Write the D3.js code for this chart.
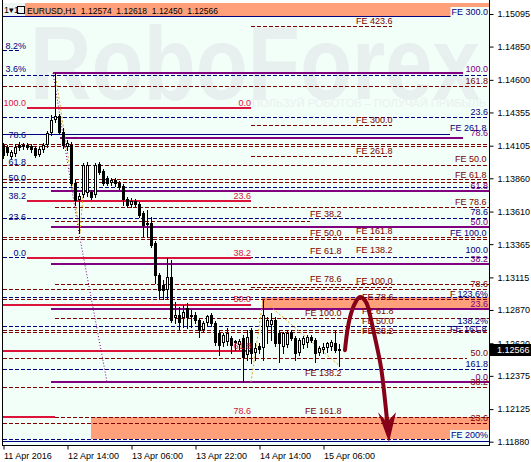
<!DOCTYPE html>
<meta charset="utf-8">
<style>
body { margin: 0; background: #fff; }
svg { display: block; font-family: "Liberation Sans", Arial, sans-serif; }
.axis text { font-size: 9px; fill: #000; font-family: "Liberation Sans", Arial, sans-serif; }
.axis line { stroke: #000; }
.lbl { font-size: 9px; }
</style>
<svg width="531" height="462"></svg>
<script src="https://d3js.org/d3.v7.min.js"></script>
<script>

// price axis ticks
var tickPrices = [1.15095, 1.14850, 1.14600, 1.14355, 1.14105, 1.13860, 1.13610,
                  1.13365, 1.13115, 1.12870, 1.12620, 1.12375, 1.12125, 1.11880];

// time axis: bar index (H1, first bar 11 Apr 22:00)
var timeTicks = [0, 16, 32, 48, 64, 80];
var timeLabels = ["11 Apr 2016", "12 Apr 14:00", "13 Apr 06:00", "13 Apr 22:00", "14 Apr 14:00", "15 Apr 06:00"];

var symbol = "EURUSD,H1";
var lastPrice = 1.12566;

var opens = [1.14110,1.14095,1.14019,1.14042,1.14110,1.14102,1.14110,1.14102,1.14087,1.14034,
 1.14072,1.14110,1.14200,1.14298,1.14328,1.14207,1.14095,1.14110,1.13824,1.13696,
 1.13734,1.13749,1.13756,1.13734,1.13967,1.13914,1.13861,1.13824,1.13846,1.13824,
 1.13801,1.13704,1.13658,1.13689,1.13666,1.13598,1.13508,1.13523,1.13373,1.13132,
 1.13057,1.13019,1.13117,1.12809,1.12831,1.12809,1.12884,1.12816,1.12831,1.12794,
 1.12718,1.12771,1.12831,1.12771,1.12696,1.12621,1.12628,1.12658,1.12621,1.12606,
 1.12658,1.12530,1.12718,1.12545,1.12598,1.12583,1.12741,1.12756,1.12794,1.12696,
 1.12591,1.12606,1.12703,1.12658,1.12545,1.12606,1.12621,1.12666,1.12643,1.12545,
 1.12568,1.12583,1.12591,1.12621,1.12574];
var highs = [1.14125,1.14110,1.14072,1.14117,1.14132,1.14125,1.14125,1.14117,1.14102,1.14095,
 1.14125,1.14215,1.14335,1.14651,1.14343,1.14237,1.14147,1.14132,1.13846,1.13749,
 1.13974,1.13982,1.13771,1.13974,1.13982,1.13929,1.13877,1.13861,1.13861,1.13839,
 1.13816,1.13719,1.13711,1.13704,1.13681,1.13613,1.13621,1.13568,1.13388,1.13147,
 1.13094,1.13260,1.13245,1.12929,1.12891,1.12906,1.12921,1.12869,1.12854,1.12809,
 1.12786,1.12831,1.12846,1.12786,1.12718,1.12696,1.12733,1.12673,1.12643,1.12651,
 1.12681,1.12718,1.12733,1.12621,1.12621,1.12944,1.12816,1.12846,1.12816,1.12718,
 1.12703,1.12718,1.12718,1.12673,1.12658,1.12673,1.12681,1.12681,1.12658,1.12598,
 1.12621,1.12628,1.12643,1.12718,1.12618];
var lows = [1.14012,1.14034,1.14012,1.14027,1.14072,1.14080,1.14080,1.14057,1.14019,1.14027,
 1.14057,1.14095,1.14185,1.14283,1.14192,1.14087,1.14072,1.13809,1.13658,1.13448,
 1.13719,1.13726,1.13704,1.13719,1.13892,1.13809,1.13809,1.13809,1.13801,1.13779,
 1.13658,1.13643,1.13643,1.13651,1.13568,1.13418,1.13418,1.13343,1.13072,1.12959,
 1.12952,1.12959,1.12779,1.12771,1.12718,1.12741,1.12733,1.12741,1.12771,1.12666,
 1.12703,1.12756,1.12748,1.12606,1.12530,1.12598,1.12606,1.12545,1.12568,1.12576,
 1.12327,1.12493,1.12470,1.12493,1.12545,1.12493,1.12621,1.12643,1.12598,1.12478,
 1.12545,1.12591,1.12643,1.12493,1.12530,1.12583,1.12591,1.12628,1.12478,1.12530,
 1.12545,1.12553,1.12568,1.12553,1.12450];
var closes = [1.14034,1.14057,1.14057,1.14095,1.14095,1.14110,1.14095,1.14080,1.14034,1.14080,
 1.14110,1.14200,1.14298,1.14328,1.14207,1.14110,1.14125,1.13824,1.13696,1.13726,
 1.13959,1.13959,1.13719,1.13959,1.13907,1.13824,1.13824,1.13846,1.13824,1.13794,
 1.13704,1.13658,1.13689,1.13666,1.13583,1.13508,1.13523,1.13358,1.13132,1.13019,
 1.13019,1.13117,1.12794,1.12831,1.12779,1.12854,1.12816,1.12831,1.12794,1.12718,
 1.12771,1.12824,1.12771,1.12628,1.12606,1.12681,1.12696,1.12606,1.12636,1.12636,
 1.12515,1.12666,1.12545,1.12583,1.12576,1.12831,1.12794,1.12794,1.12621,1.12621,
 1.12696,1.12696,1.12658,1.12545,1.12643,1.12658,1.12666,1.12643,1.12545,1.12583,
 1.12591,1.12621,1.12628,1.12568,1.12566];

// horizontal levels: [price, from bar, to bar, kind]
var levels = [
 [1.15080, 0, 121.5, "nvs"], [1.15004, 62, 97.25, "dr"], [1.14824, 0, 4.25, "nv"],
 [1.14651, 12.5, 115, "pu"], [1.14636, 0, 121.5, "nv"], [1.14553, 0, 121.5, "dr"],
 [1.14388, 6, 62, "cr"], [1.14320, 0, 121.5, "nv"], [1.14260, 62, 97.25, "dr"],
 [1.14192, 0, 111.75, "nvs"], [1.14162, 14.25, 115, "pu"], [1.14119, 0, 121.5, "dr"],
 [1.14102, 0, 121.5, "dr"], [1.14027, 62, 97.25, "dr"], [1.13959, 0, 121.5, "dr"],
 [1.13854, 0, 121.5, "dr"], [1.13831, 0, 121.5, "dr"], [1.13794, 0, 121.5, "nv"],
 [1.13764, 12, 121.5, "pu"], [1.13691, 6, 62, "cr"], [1.13643, 13, 121.5, "dr"],
 [1.13561, 0, 121.5, "nv"], [1.13538, 13, 76.75, "dr"], [1.13493, 12, 121.5, "pu"],
 [1.13418, 0, 121.5, "dr"], [1.13403, 0, 121.5, "dr"], [1.13267, 0, 121.5, "nv"],
 [1.13260, 6, 62, "cr"], [1.13215, 12, 121.5, "pu"], [1.13064, 13, 121.5, "dr"],
 [1.13042, 62, 97.25, "dr"], [1.13027, 0, 121.5, "dr"], [1.12967, 0, 121.5, "nv"],
 [1.12952, 0, 121.5, "dr"], [1.12906, 0, 62, "cr"], [1.12876, 12, 121.5, "pu"],
 [1.12809, 13, 121.5, "dr"], [1.12748, 0, 121.5, "nv"], [1.12718, 0, 121.5, "dr"],
 [1.12703, 0, 121.5, "dr"], [1.12563, 0, 62, "cr"], [1.12508, 0, 116, "dr"],
 [1.12425, 0, 121.5, "nv"], [1.12330, 12, 121.5, "pu"], [1.12290, 0, 121.5, "dr"],
 [1.12066, 0, 13, "cr"], [1.12066, 13, 121.5, "dr"], [1.12019, 0, 121.5, "dr"],
 [1.11899, 0, 121.5, "nv"], [1.11884, 0, 121.5, "nvs"]
];

// level captions: [text, bar, price, kind, anchor]
var labels = [
 ["FE 300.0", 121.25, 1.15087, "nvb", "end"], ["100.0", 121.25, 1.14659, "pu", "end"],
 ["161.8", 121.25, 1.14568, "dr", "end"], ["23.6", 121.25, 1.14335, "nv", "end"],
 ["78.6", 121.25, 1.14177, "pu", "end"], ["61.8", 121.25, 1.13779, "pu", "end"],
 ["78.6", 121.25, 1.13583, "nv", "end"], ["50.0", 121.25, 1.13508, "pu", "end"],
 ["100.0", 121.25, 1.13297, "nv", "end"], ["38.2", 121.25, 1.13230, "pu", "end"],
 ["78.6", 121.25, 1.13042, "dr", "end"], ["123.6%", 121.25, 1.12967, "nv", "end"],
 ["23.6", 121.25, 1.12891, "pu", "end"], ["138.2%", 121.25, 1.12764, "nv", "end"],
 ["50.0", 121.25, 1.12523, "dr", "end"], ["161.8", 121.25, 1.12440, "nv", "end"],
 ["0.0", 121.25, 1.12342, "pu", "end"], ["38.2", 121.25, 1.12305, "dr", "end"],
 ["23.6", 121.25, 1.12034, "dr", "end"], ["FE 200%", 121.25, 1.11906, "nvb", "end"],
 ["FE 50.0", 113, 1.13982, "dr", "start"], ["FE 61.8", 113, 1.13861, "dr", "start"],
 ["FE 78.6", 113, 1.13658, "dr", "start"], ["FE 261.8", 111.75, 1.14215, "nv", "start"],
 ["FE 100.0", 111.75, 1.13425, "nv", "start"], ["F", 111.75, 1.12967, "dr", "start"],
 ["FE 161.8", 111.75, 1.12703, "nv", "start"],
 ["FE 423.6", 88.25, 1.15020, "dr", "start"], ["FE 300.0", 88.25, 1.14275, "dr", "start"],
 ["FE 261.8", 88.25, 1.14042, "dr", "start"], ["FE 161.8", 88.25, 1.13440, "dr", "start"],
 ["FE 138.2", 88.25, 1.13297, "dr", "start"], ["FE 100.0", 88.25, 1.13064, "dr", "start"],
 ["FE 78.6", 89.75, 1.12944, "dr", "start"], ["FE 61.8", 89.75, 1.12839, "dr", "start"],
 ["FE 50.0", 89.75, 1.12764, "dr", "start"], ["FE 38.2", 89.75, 1.12688, "dr", "start"],
 ["FE 38.2", 76.75, 1.13568, "dr", "start"], ["FE 50.0", 76.75, 1.13425, "dr", "start"],
 ["FE 61.8", 76.75, 1.13290, "dr", "start"], ["FE 78.6", 76.75, 1.13079, "dr", "start"],
 ["FE 100.0", 75.5, 1.12824, "dr", "start"], ["FE 138.2", 75.5, 1.12372, "dr", "start"],
 ["FE 161.8", 75.5, 1.12087, "dr", "start"],
 ["0.0", 62, 1.14403, "cr", "end"], ["23.6", 62, 1.13704, "cr", "end"],
 ["38.2", 62, 1.13275, "cr", "end"], ["50.0", 62, 1.12929, "cr", "end"],
 ["61.8", 62, 1.12576, "cr", "end"], ["78.6", 62, 1.12087, "cr", "end"],
 ["8.2%", 5.75, 1.14832, "nv", "end"], ["3.6%", 5.75, 1.14659, "nv", "end"],
 ["100.0", 5.75, 1.14403, "cr", "end"], ["78.6", 5.75, 1.14162, "nv", "end"],
 ["61.8", 5.75, 1.13959, "nv", "end"], ["50.0", 5.75, 1.13839, "nv", "end"],
 ["38.2", 5.75, 1.13704, "nv", "end"], ["23.6", 5.75, 1.13546, "nv", "end"],
 ["0.0", 5.75, 1.13275, "nv", "end"]
];

// target zones: [top price, bottom price, from bar, to bar]
var zones = [[1.15177, 1.15080, 0, 121.5], [1.12967, 1.12876, 64.75, 121.5], [1.12066, 1.11899, 22, 121.5]];

// fibo anchor lines [bar, price]
var purpleTrend = [[12.5, 1.14651], [19, 1.13448], [26, 1.12330]];
var orangeTrend1 = [[13, 1.14651], [19.25, 1.13448], [20, 1.13734]];
var orangeTrend2 = [[62, 1.12327], [65, 1.12944], [84, 1.12455]];

// forecast arrow
var arrowPts = [[85.5, 1.12568], [86, 1.12696], [86.75, 1.12816], [88, 1.12921], [89.25, 1.12967],
 [90.75, 1.12929], [91.75, 1.12831], [92.75, 1.12696], [94.5, 1.12440], [95.5, 1.12192], [96, 1.12042]];
var arrowHead = [[93.75, 1.12102], [96.5, 1.11876], [98.25, 1.12102], [96, 1.12027]];

var svg = d3.select("svg"),
    W = +svg.attr("width"),
    H = +svg.attr("height");

var bg = "#f2fef8";
var color = {nv: "#000080", nvs: "#000080", nvb: "#000080", dr: "#800000", cr: "#dc143c", pu: "#800080"};
var sw = {nv: 1, nvs: 1, dr: 1, cr: 2, pu: 2};
var dash = {nv: "4,2", dr: "4,2"};

var x = d3.scaleLinear().domain([0, 121.5]).range([3, 489]);
var y = d3.scaleLinear().domain([1.11880, 1.15095]).range([441.7, 14]);

function py(p, w) { return w == 2 ? Math.round(y(p)) : Math.round(y(p)) + 0.5; }

svg.append("rect").attr("width", W).attr("height", H).attr("fill", "#fff");
svg.append("rect").attr("x", 3).attr("y", 3).attr("width", 486).attr("height", 442).attr("fill", bg);

// watermark (fits inside the plot, no clipping needed)
svg.append("text").attr("x", 30).attr("y", 99)
  .attr("font-size", 104).attr("font-weight", "bold")
  .attr("textLength", 450).attr("lengthAdjust", "spacingAndGlyphs")
  .attr("fill", "#e7efef").text("RoboForex");
svg.append("text").attr("x", 252).attr("y", 107)
  .attr("font-size", 10).attr("textLength", 234).attr("lengthAdjust", "spacingAndGlyphs")
  .attr("fill", "#e9f1f0")
  .text("ПОЛЬЗУЙ РОБОТОВ – ПОЛУЧАЙ ПРИБЫЛЬ");

svg.append("defs").append("clipPath").attr("id", "plot")
  .append("rect").attr("x", 3).attr("y", 3).attr("width", 486).attr("height", 442);
var plot = svg.append("g").attr("clip-path", "url(#plot)");

// zones
plot.append("g").selectAll("rect").data(zones).join("rect")
  .attr("x", function(d) { return x(d[2]); })
  .attr("width", function(d) { return x(d[3]) - x(d[2]); })
  .attr("y", function(d) { return Math.round(y(d[0])); })
  .attr("height", function(d) { return Math.round(y(d[1])) - Math.round(y(d[0])); })
  .attr("fill", "#ffa07a");

// levels
plot.append("g").attr("shape-rendering", "crispEdges").selectAll("line").data(levels).join("line")
  .attr("x1", function(d) { return x(d[1]); })
  .attr("x2", function(d) { return x(d[2]); })
  .attr("y1", function(d) { return py(d[0], sw[d[3]]); })
  .attr("y2", function(d) { return py(d[0], sw[d[3]]); })
  .attr("stroke", function(d) { return color[d[3]]; })
  .attr("stroke-width", function(d) { return sw[d[3]]; })
  .attr("stroke-dasharray", function(d) { return dash[d[3]] || null; });

// fibo anchor trend lines
var trend = d3.line().x(function(d) { return x(d[0]); }).y(function(d) { return y(d[1]); });
plot.append("path").attr("d", trend(purpleTrend)).attr("fill", "none")
  .attr("stroke", "#800080").attr("stroke-dasharray", "1,2");
plot.append("path").attr("d", trend(orangeTrend1)).attr("fill", "none")
  .attr("stroke", "#daa520").attr("stroke-dasharray", "2,2");
plot.append("path").attr("d", trend(orangeTrend2)).attr("fill", "none")
  .attr("stroke", "#daa520").attr("stroke-dasharray", "2,2");

// candles
var idx = d3.range(opens.length);
var candles = plot.append("g").attr("shape-rendering", "crispEdges");
candles.selectAll("line").data(idx).join("line")
  .attr("x1", function(i) { return x(i) + 0.5; })
  .attr("x2", function(i) { return x(i) + 0.5; })
  .attr("y1", function(i) { return Math.round(y(highs[i])); })
  .attr("y2", function(i) { return Math.round(y(lows[i])) + 1; })
  .attr("stroke", "#000");
candles.selectAll("rect").data(idx).join("rect")
  .each(function(i) {
    var up = closes[i] >= opens[i];
    var top = Math.round(y(Math.max(opens[i], closes[i])));
    var bot = Math.round(y(Math.min(opens[i], closes[i])));
    var h = Math.max(bot - top, 1);
    var r = d3.select(this);
    if (up) {
      r.attr("x", x(i) - 0.5).attr("width", 2).attr("y", top + 0.5).attr("height", Math.max(h - 1, 1))
       .attr("fill", "#fff").attr("stroke", "#000");
    } else {
      r.attr("x", x(i) - 1).attr("width", 3).attr("y", top).attr("height", h + 1).attr("fill", "#000");
    }
  });

// forecast arrow
plot.append("path")
  .attr("d", d3.line().x(function(d) { return x(d[0]); }).y(function(d) { return y(d[1]); })
    .curve(d3.curveCatmullRom)(arrowPts))
  .attr("fill", "none").attr("stroke", "#850018").attr("stroke-width", 4).attr("stroke-linecap", "round");
plot.append("path")
  .attr("d", trend(arrowHead) + "Z").attr("fill", "#850018");

// captions
var lab = plot.append("g").attr("class", "lbl");
lab.selectAll("text").data(labels).join("text")
  .attr("x", function(d) { return x(d[1]); })
  .attr("y", function(d) { return Math.round(y(d[2])); })
  .attr("text-anchor", function(d) { return d[4]; })
  .attr("fill", function(d) { return color[d[3]]; })
  .text(function(d) { return d[0]; })
  .each(function(d) {
    if (d[3] == "nvb") {
      var b = this.getBBox();
      d3.select(this.parentNode).insert("rect", function() { return this; }.bind(this))
        .attr("x", b.x - 1).attr("y", b.y).attr("width", b.width + 2).attr("height", b.height)
        .attr("fill", bg);
    }
  });

// header
svg.append("rect").attr("x", 3).attr("y", 3).attr("width", 22).attr("height", 13).attr("fill", "#eef4f2");
svg.append("text").attr("x", 4).attr("y", 13).attr("font-size", 9).attr("fill", "#000").text("1▾1");
svg.append("rect").attr("x", 17.5).attr("y", 6.5).attr("width", 7).attr("height", 7)
  .attr("fill", "none").attr("stroke", "#000");
svg.append("text").attr("x", 27).attr("y", 14).attr("font-size", 9.5)
  .attr("textLength", 191).attr("lengthAdjust", "spacingAndGlyphs")
  .style("white-space", "pre")
  .text(symbol + "  " + [opens[84], highs[84], lows[84], closes[84]].map(d3.format(".5f")).join("  "));

// axes
var yAxis = d3.axisRight(y).tickValues(tickPrices).tickFormat(d3.format(".5f")).tickSize(4).tickPadding(4);
svg.append("g").attr("class", "axis").attr("transform", "translate(489.5,0)").call(yAxis)
  .call(function(g) { g.select(".domain").remove(); });

var xAxis = d3.axisBottom(x).tickValues(timeTicks)
  .tickFormat(function(d, i) { return timeLabels[i]; }).tickSize(4).tickPadding(3);
svg.append("g").attr("class", "axis").attr("transform", "translate(0.5,445.5)").call(xAxis)
  .call(function(g) { g.select(".domain").remove(); })
  .selectAll("text").attr("text-anchor", "start").attr("x", 0);

svg.append("line").attr("x1", 489.5).attr("x2", 489.5).attr("y1", 0).attr("y2", 446).attr("stroke", "#000");
svg.append("line").attr("x1", 2).attr("x2", 490).attr("y1", 445.5).attr("y2", 445.5).attr("stroke", "#000");
svg.append("line").attr("x1", 2.5).attr("x2", 2.5).attr("y1", 0).attr("y2", 446).attr("stroke", "#000");

// last price box
var ly = Math.round(y(lastPrice));
svg.append("rect").attr("x", 490).attr("y", ly - 6).attr("width", 41).attr("height", 12).attr("fill", "#000");
svg.append("text").attr("x", 497).attr("y", ly + 3).attr("font-size", 9).attr("fill", "#fff")
  .text(d3.format(".5f")(lastPrice));

</script>
